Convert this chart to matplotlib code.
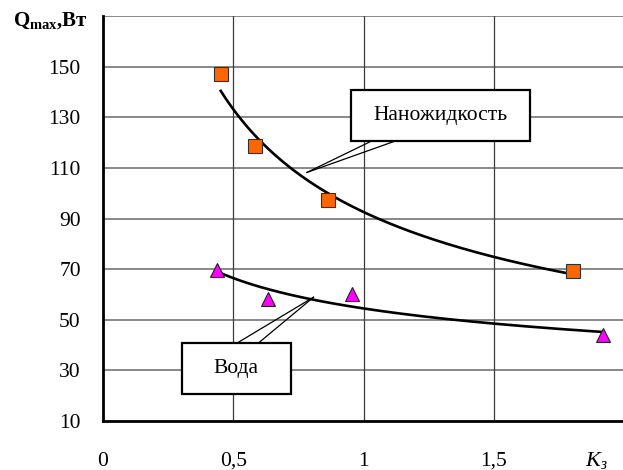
import matplotlib.pyplot as plt
from matplotlib.patches import Rectangle
import numpy as np

plt.rcParams['font.family'] = ['Liberation Serif', 'DejaVu Serif']
plt.rcParams['mathtext.fontset'] = 'custom'
plt.rcParams['mathtext.rm'] = 'Liberation Serif'
plt.rcParams['mathtext.it'] = 'Liberation Serif:italic'
plt.rcParams['mathtext.bf'] = 'Liberation Serif:bold'

# данные: наножидкость и вода
k_nano = [0.452, 0.582, 0.862, 1.805]
q_nano = [146.9, 118.6, 97.2, 69.3]
k_water = [0.437, 0.632, 0.954, 1.92]
q_water = [69.7, 58.2, 60.1, 43.9]

x_ticks = [0, 0.5, 1, 1.5]
x_labels = ['0', '0,5', '1', '1,5']
y_ticks = [10, 30, 50, 70, 90, 110, 130, 150, 170]
y_labels = ['10', '30', '50', '70', '90', '110', '130', '150', '']


def power_trend(x, y):
    """степенная линия тренда y = a*x^b"""
    b, ln_a = np.polyfit(np.log(x), np.log(y), 1)
    xs = np.linspace(min(x), max(x), 200)
    return xs, np.exp(ln_a) * xs ** b


fig = plt.figure(figsize=(6.23, 4.70), dpi=100)
ax = fig.add_axes([103 / 623, 49 / 470, 521 / 623, 405 / 470])
ax.set_xlim(0, 2)
ax.set_ylim(10, 170)

# сетка
for y in y_ticks[1:]:
    ax.axhline(y, color='#7f7f7f', linewidth=1.3, zorder=1)
for x in x_ticks[1:]:
    ax.axvline(x, color='#3a3a3a', linewidth=0.9, zorder=1)

for s in ['top', 'right']:
    ax.spines[s].set_visible(False)
for s in ['left', 'bottom']:
    ax.spines[s].set_linewidth(2)
    ax.spines[s].set_color('black')

ax.set_xticks(x_ticks)
ax.set_xticklabels(x_labels)
ax.set_yticks(y_ticks)
ax.set_yticklabels(y_labels)
ax.tick_params(axis='x', length=0, pad=22, labelsize=15.5)
ax.tick_params(axis='y', length=0, pad=16, labelsize=15.5)

# линии тренда
xs, ys = power_trend(k_nano, q_nano)
ax.plot(xs, ys, color='black', linewidth=1.9, zorder=3)
xs, ys = power_trend(k_water, q_water)
ax.plot(xs, ys, color='black', linewidth=1.9, zorder=3)

ax.plot(k_nano, q_nano, 's', markersize=10, markerfacecolor='#ff6600',
        markeredgecolor='#303030', markeredgewidth=0.8, zorder=4, clip_on=False)
ax.plot(k_water, q_water, '^', markersize=10, markerfacecolor='#ff00ff',
        markeredgecolor='#202020', markeredgewidth=0.8, zorder=4, clip_on=False)

# выноски
def callout(x0, x1, y0, y1, text, base, tip):
    ax.add_patch(Rectangle((x0, y0), x1 - x0, y1 - y0, facecolor='white',
                           edgecolor='black', linewidth=1.6, zorder=5))
    ax.text((x0 + x1) / 2, (y0 + y1) / 2, text, ha='center', va='center',
            fontsize=15.5, zorder=6)
    for bx, by in base:
        ax.plot([bx, tip[0]], [by, tip[1]], color='black', linewidth=0.9, zorder=5)


callout(0.953, 1.639, 120.5, 140.6, 'Наножидкость',
        [(1.029, 120.5), (1.119, 120.5)], (0.783, 108.2))
callout(0.304, 0.720, 20.7, 41.0, 'Вода',
        [(0.518, 41.0), (0.599, 41.0)], (0.808, 58.9))

fig.text(13 / 623, 1 - 26 / 470, r'$\mathbf{Q}_{\mathbf{max}}$,Вт',
         fontsize=15, fontweight='bold', va='baseline', ha='left')
fig.text(585 / 623, 1 - 466 / 470, r'$K_з$', fontsize=16, va='baseline', ha='left')

plt.savefig('out.png', dpi=100)
